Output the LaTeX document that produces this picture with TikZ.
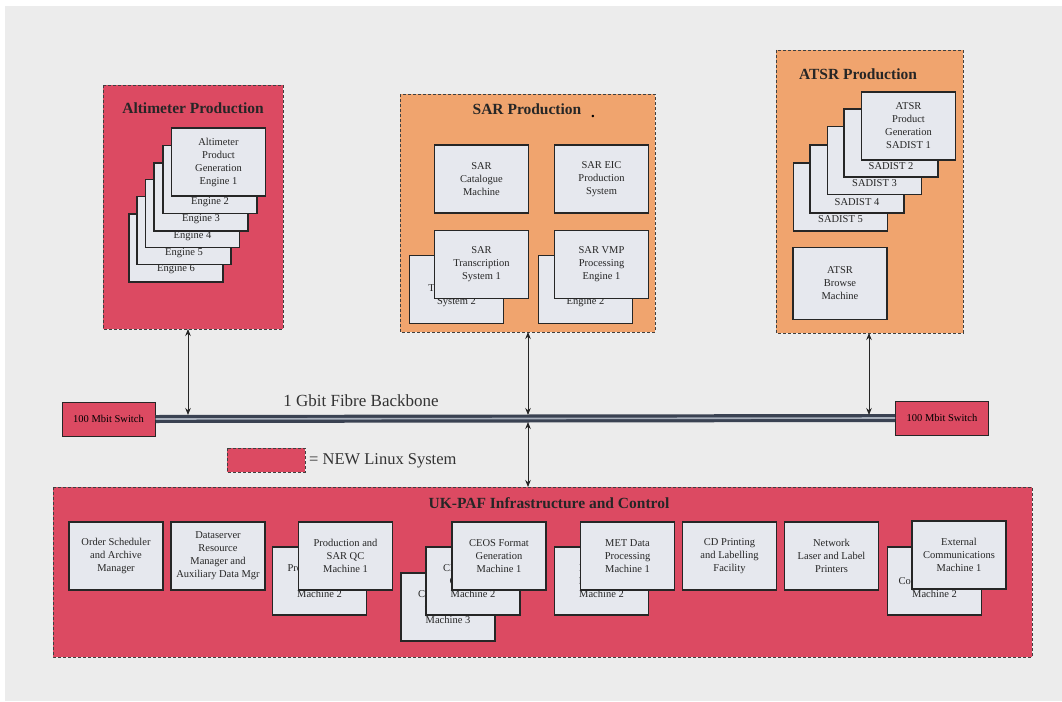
\documentclass[tikz,border=0pt]{standalone}
\usepackage{fontspec}
\setmainfont{Liberation Serif}
\usetikzlibrary{arrows.meta}
\definecolor{nred}{HTML}{DC4A62}
\definecolor{norange}{HTML}{F0A46E}
\definecolor{boxgrey}{HTML}{E6E8EE}
\definecolor{bggrey}{HTML}{ECECEC}
\definecolor{bbdark}{HTML}{3A4252}
\definecolor{bblight}{HTML}{A8B0BC}
\tikzset{
  group/.style={draw=black!75, densely dashed, line width=0.9pt},
  gtitle/.style={font=\fontsize{15.5}{18}\selectfont\bfseries, text=black!85},
  mbox/.style={draw=black!85, line width=1.3pt, fill=boxgrey, minimum width=94pt, minimum height=68pt, inner sep=0pt, align=center, font=\fontsize{10.5}{13}\selectfont, text=black!85},
  slbl/.style={font=\fontsize{10.5}{13}\selectfont, text=black!85, inner sep=0pt},
  switchbox/.style={draw=black!85, line width=1pt, fill=nred, minimum width=93pt, minimum height=34pt, inner sep=0pt, font=\fontsize{10.5}{12}\selectfont},
  link/.style={draw=black!85, line width=0.8pt, {Stealth[length=7pt,width=5.5pt]}-{Stealth[length=7pt,width=5.5pt]}},
}
\begin{document}
\begin{tikzpicture}[x=1pt,y=-1pt]
\useasboundingbox (0,0) rectangle (1062,701);
\fill[white] (0,0) rectangle (1062,701);
\fill[bggrey] (5,6) rectangle (1062,701);

% ---------- Altimeter Production ----------
\draw[group, fill=nred] (103,85) rectangle (283,329);
\coordinate (altB) at (188,329);
\node[gtitle] (altT) at (193,108) {Altimeter Production};
\node[mbox] (e6) at (176,248) {};
\node[slbl] at ([yshift=13pt]e6.south) {Engine 6};
\node[mbox] (e5) at (184,230.5) {};
\node[slbl] at ([yshift=12pt]e5.south) {Engine 5};
\node[mbox] (e4) at (192.5,213.5) {};
\node[slbl] at ([yshift=12pt]e4.south) {Engine 4};
\node[mbox] (e3) at (201,197) {};
\node[slbl] at ([yshift=12pt]e3.south) {Engine 3};
\node[mbox] (e2) at (210,179.5) {};
\node[slbl] at ([yshift=12pt]e2.south) {Engine 2};
\node[mbox] (e1) at (218.5,162) {Altimeter\\Product\\Generation\\Engine 1};

% ---------- SAR Production ----------
\draw[group, fill=norange] (400,94) rectangle (655,332);
\coordinate (sarB) at (528,332);
\node[gtitle] (sarT) at (527,109) {SAR Production};
\node[font=\fontsize{15}{18}\selectfont\bfseries] at (593,116) {.};
\node[mbox] (scat) at (481.5,179) {SAR\\Catalogue\\Machine};
\node[mbox] (seic) at (601.5,179) {SAR EIC\\Production\\System};
\node[mbox] (str2) at (456.5,289.5) {SAR\\Transcription\\System 2};
\node[mbox] (str1) at (481.5,264.5) {SAR\\Transcription\\System 1};
\node[mbox] (svm2) at (585.5,289.5) {SAR VMP\\Processing\\Engine 2};
\node[mbox] (svm1) at (601.5,264.5) {SAR VMP\\Processing\\Engine 1};

% ---------- ATSR Production ----------
\draw[group, fill=norange] (776,50) rectangle (963,333);
\coordinate (atsB) at (869,333);
\node[gtitle] (atsT) at (858,74) {ATSR Production};
\node[mbox] (s5) at (840.5,197) {};
\node[slbl] at ([yshift=13pt]s5.south) {SADIST 5};
\node[mbox] (s4) at (857,179) {};
\node[slbl] at ([yshift=12pt]s4.south) {SADIST 4};
\node[mbox] (s3) at (874.5,160.5) {};
\node[slbl] at ([yshift=12pt]s3.south) {SADIST 3};
\node[mbox] (s2) at (891,143) {};
\node[slbl] at ([yshift=12pt]s2.south) {SADIST 2};
\node[mbox] (s1) at (908.5,126) {ATSR\\Product\\Generation\\SADIST 1};
\node[mbox, minimum height=72pt] (abr) at (840,283.5) {ATSR\\Browse\\Machine};

% ---------- Backbone ----------
\node[switchbox] (swl) at (108.5,419) {100 Mbit Switch};
\node[switchbox] (swr) at (942,418) {100 Mbit Switch};
\draw[bbdark, line width=8pt] (swl.east) -- (swr.west);
\draw[bblight, line width=1.6pt] (swl.east) -- (swr.west);
\node[font=\fontsize{17}{20}\selectfont, text=black!80] (bbl) at (361,401) {1 Gbit Fibre Backbone};
\coordinate (bbA) at (188,415);
\coordinate (bbS) at (528,415);
\coordinate (bbS2) at (528,422);
\coordinate (bbT) at (869,415);
\draw[link] (altB) -- (bbA);
\draw[link] (sarB) -- (bbS);
\draw[link] (atsB) -- (bbT);

% ---------- Legend ----------
\draw[group, fill=nred] (227,448) rectangle (305,472);
\node[anchor=west, font=\fontsize{16.5}{19}\selectfont, text=black!80, inner sep=0pt] (leg) at (309,461) {= NEW Linux System};

% ---------- UK-PAF ----------
\draw[group, fill=nred] (53,487) rectangle (1032,657);
\coordinate (ukT) at (528,487);
\draw[link] (bbS2) -- (ukT);
\node[gtitle] (ukTitle) at (549,503) {UK-PAF Infrastructure and Control};
\node[mbox] (osam) at (116,556) {Order Scheduler\\and Archive\\Manager};
\node[mbox] (dsrm) at (218,556) {Dataserver\\Resource\\Manager and\\Auxiliary Data Mgr};
\node[mbox] (pq2) at (319.5,581) {Production and\\SAR QC\\Machine 2};
\node[mbox] (pq1) at (345.5,556) {Production and\\SAR QC\\Machine 1};
\node[mbox] (ceo3) at (448,607) {CEOS Format\\Generation\\Machine 3};
\node[mbox] (ceo2) at (473,581) {CEOS Format\\Generation\\Machine 2};
\node[mbox] (ceo1) at (499,556) {CEOS Format\\Generation\\Machine 1};
\node[mbox] (met2) at (601.5,581) {MET Data\\Processing\\Machine 2};
\node[mbox] (met1) at (627.5,556) {MET Data\\Processing\\Machine 1};
\node[mbox] (cdp) at (729.5,556) {CD Printing\\and Labelling\\Facility};
\node[mbox] (nlp) at (831.5,556) {Network\\Laser and Label\\Printers};
\node[mbox] (ext2) at (934.5,581) {External\\Communications\\Machine 2};
\node[mbox] (ext1) at (959,555) {External\\Communications\\Machine 1};
\end{tikzpicture}
\end{document}
